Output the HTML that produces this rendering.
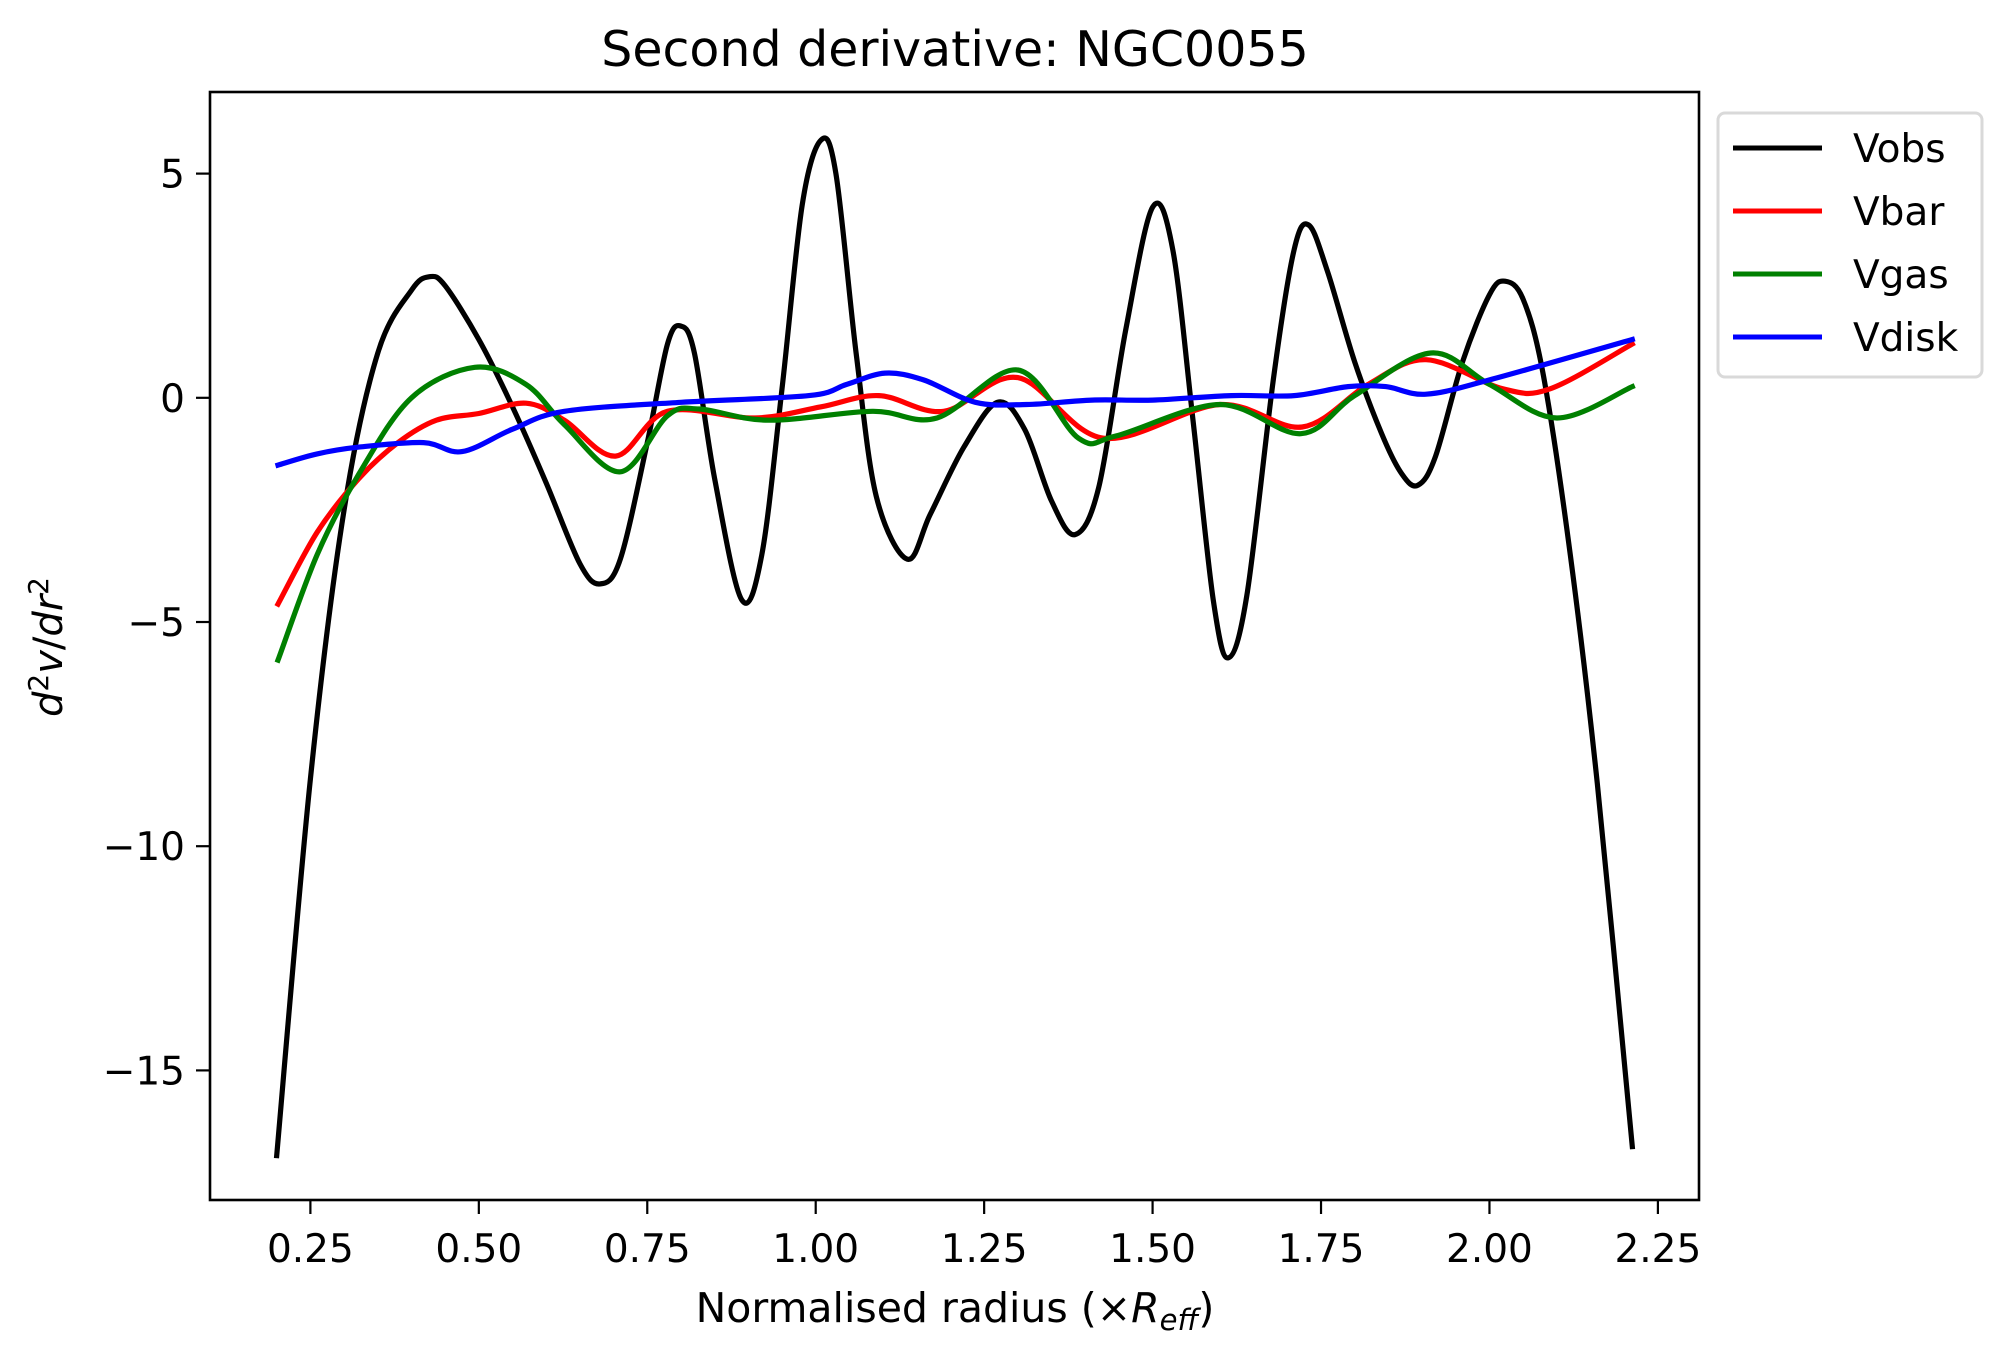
<!DOCTYPE html>
<html><head><meta charset="utf-8"><style>
body{margin:0;background:#fff;}
svg{display:block;font-family:"DejaVu Sans","Liberation Sans",sans-serif;}
</style></head><body>
<svg id="chart" width="2011" height="1362" viewBox="0 0 2011 1362" xmlns="http://www.w3.org/2000/svg">
<rect width="2011" height="1362" fill="#fff"/>
<text x="955" y="66" font-size="49" text-anchor="middle">Second derivative: NGC0055</text>
<g id="plot"></g>
<g id="axes"></g>
<text x="955" y="1322" font-size="41" text-anchor="middle">Normalised radius (×<tspan font-style="italic">R</tspan><tspan font-style="italic" font-size="29" dy="8">eff</tspan><tspan dy="-8">)</tspan></text>
<text transform="translate(62,647) rotate(-90)" font-size="40" text-anchor="middle"><tspan font-style="italic">d</tspan><tspan font-size="28" dy="-14">2</tspan><tspan font-style="italic" dy="14">v</tspan>/<tspan font-style="italic">dr</tspan><tspan font-size="28" dy="-14">2</tspan></text>
<g>
<rect x="1718" y="113" width="264" height="264" rx="7" fill="#fff" stroke="#d9d9d9" stroke-width="3"/>
<g id="legend"></g>
</g>
</svg>
<script>
const xTicks=[0.25,0.5,0.75,1.0,1.25,1.5,1.75,2.0,2.25];
const xTickLabels=["0.25","0.50","0.75","1.00","1.25","1.50","1.75","2.00","2.25"];
const yTicks=[5,0,-5,-10,-15];
const yTickLabels=["5","0","\u22125","\u221210","\u221215"];
const seriesNames=["Vobs","Vbar","Vgas","Vdisk"];
const seriesColors=["#000000","#ff0000","#008000","#0000ff"];
const vobsX=[0.20,0.25,0.30,0.35,0.40,0.427,0.45,0.50,0.55,0.60,0.65,0.68,0.71,0.75,0.78,0.80,0.82,0.85,0.89,0.92,0.95,0.98,1.008,1.03,1.06,1.09,1.136,1.17,1.22,1.27,1.31,1.35,1.385,1.42,1.46,1.50,1.53,1.56,1.59,1.612,1.64,1.68,1.71,1.732,1.76,1.80,1.84,1.87,1.894,1.92,1.96,2.00,2.023,2.05,2.08,2.12,2.16,2.212];
const vobsY=[-16.9,-8.5,-2.5,1.0,2.4,2.7,2.5,1.3,-0.2,-1.9,-3.7,-4.15,-3.6,-1.0,1.2,1.6,1.0,-1.8,-4.5,-3.5,0.2,4.3,5.75,5.0,1.0,-2.2,-3.6,-2.6,-1.1,-0.1,-0.7,-2.3,-3.05,-2.0,1.5,4.25,3.3,-0.5,-4.5,-5.8,-4.4,0.5,3.3,3.85,2.8,0.8,-0.8,-1.7,-1.95,-1.3,0.8,2.3,2.6,2.2,0.5,-3.5,-8.6,-16.7];
const vbarX=[0.202,0.26,0.322,0.38,0.437,0.50,0.57,0.627,0.703,0.78,0.91,1.008,1.094,1.19,1.30,1.427,1.60,1.722,1.82,1.906,2.02,2.09,2.212];
const vbarY=[-4.6,-3.0,-1.8,-1.0,-0.5,-0.35,-0.12,-0.5,-1.3,-0.3,-0.45,-0.2,0.05,-0.3,0.45,-0.9,-0.15,-0.65,0.3,0.85,0.2,0.2,1.2];
const vgasX=[0.202,0.26,0.322,0.40,0.494,0.57,0.627,0.71,0.78,0.827,0.93,1.084,1.18,1.30,1.39,1.446,1.60,1.72,1.80,1.913,2.00,2.10,2.212];
const vgasY=[-5.85,-3.5,-1.7,0.0,0.68,0.3,-0.6,-1.65,-0.4,-0.25,-0.5,-0.3,-0.45,0.62,-0.9,-0.85,-0.15,-0.8,0.05,1.0,0.3,-0.45,0.25];
const vdiskX=[0.202,0.26,0.322,0.418,0.475,0.55,0.627,0.80,0.99,1.046,1.103,1.16,1.237,1.313,1.41,1.50,1.617,1.71,1.79,1.846,1.906,2.0,2.212];
const vdiskY=[-1.5,-1.25,-1.1,-1.0,-1.2,-0.7,-0.3,-0.1,0.05,0.3,0.55,0.4,-0.1,-0.15,-0.05,-0.05,0.05,0.05,0.25,0.25,0.08,0.4,1.3];
const seriesX=[vobsX,vbarX,vgasX,vdiskX];
const seriesY=[vobsY,vbarY,vgasY,vdiskY];

const L=210,R=1699,T=92,B=1200;
const xMin=0.101,xMax=2.311,yMin=-17.89,yMax=6.82;
const sx=v=>L+(v-xMin)/(xMax-xMin)*(R-L);
const sy=v=>B-(v-yMin)/(yMax-yMin)*(B-T);
const NS="http://www.w3.org/2000/svg";
function mk(tag,attrs,parent){const e=document.createElementNS(NS,tag);for(const k in attrs)e.setAttribute(k,attrs[k]);parent.appendChild(e);return e;}
const plot=document.getElementById('plot'),axes=document.getElementById('axes'),legend=document.getElementById('legend');
const clip=mk('clipPath',{id:'clp'},plot);mk('rect',{x:L,y:T,width:R-L,height:B-T},clip);
function smoothPath(xs,ys){
  const p=xs.map((x,i)=>[sx(x),sy(ys[i])]);
  let d='M'+p[0][0].toFixed(1)+','+p[0][1].toFixed(1);
  for(let i=0;i<p.length-1;i++){
    const p0=p[Math.max(0,i-1)],p1=p[i],p2=p[i+1],p3=p[Math.min(p.length-1,i+2)];
    const c1=[p1[0]+(p2[0]-p0[0])/6,p1[1]+(p2[1]-p0[1])/6];
    const c2=[p2[0]-(p3[0]-p1[0])/6,p2[1]-(p3[1]-p1[1])/6];
    d+=' C'+c1[0].toFixed(1)+','+c1[1].toFixed(1)+' '+c2[0].toFixed(1)+','+c2[1].toFixed(1)+' '+p2[0].toFixed(1)+','+p2[1].toFixed(1);
  }
  return d;
}
const g=mk('g',{'clip-path':'url(#clp)'},plot);
for(let s=0;s<seriesNames.length;s++){
  const path=mk('path',{d:smoothPath(seriesX[s],seriesY[s]),fill:'none',stroke:seriesColors[s],'stroke-width':5.2,'stroke-linejoin':'round','stroke-linecap':'square'},g);
  
  
}
const frame=mk('rect',{x:L,y:T,width:R-L,height:B-T,fill:'none',stroke:'#000','stroke-width':2.6},axes);


xTicks.forEach((v,i)=>{
  const x=sx(v);
  const t=mk('line',{x1:x,x2:x,y1:B,y2:B+14,stroke:'#000','stroke-width':2.2},axes);
  
  
  const lb=mk('text',{x:x,y:B+62,'font-size':39,'text-anchor':'middle'},axes);
  lb.textContent=xTickLabels[i];
  
  
});
yTicks.forEach((v,i)=>{
  const y=sy(v);
  const t=mk('line',{x1:L-14,x2:L,y1:y,y2:y,stroke:'#000','stroke-width':2.2},axes);
  
  
  const lb=mk('text',{x:L-25,y:y+14,'font-size':39,'text-anchor':'end'},axes);
  lb.textContent=yTickLabels[i];
  
  
});
seriesNames.forEach((n,i)=>{
  const y=148+i*63;
  const ln=mk('line',{x1:1733,x2:1822,y1:y,y2:y,stroke:seriesColors[i],'stroke-width':5},legend);
  
  
  const tx=mk('text',{x:1853,y:y+14,'font-size':39},legend);
  tx.textContent=n;
  
  
});
</script>
</body></html>
